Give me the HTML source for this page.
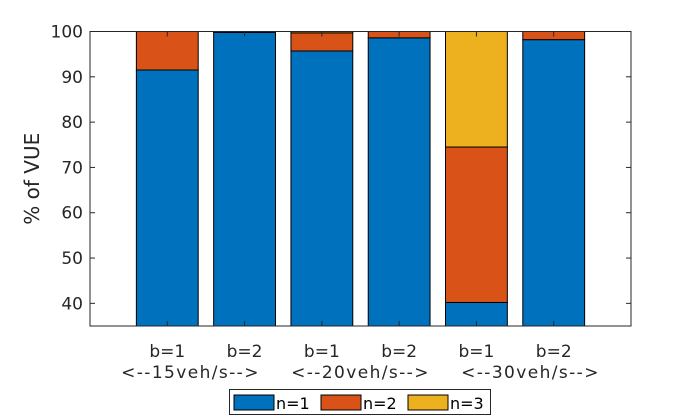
<!DOCTYPE html>
<html><head><meta charset="utf-8"><style>
body{margin:0;background:#fff;}
svg{display:block;font-family:"DejaVu Sans","Liberation Sans",sans-serif;}
</style></head><body>
<svg id="chart" width="689" height="416" viewBox="0 0 689 416" xmlns="http://www.w3.org/2000/svg">
<rect x="0" y="0" width="689" height="416" fill="#fff"/>
<g id="plot"></g>
</svg>
<script>
const categories = ["b=1","b=2","b=1","b=2","b=1","b=2"];
const groupLabels = ["<--15veh/s-->","<--20veh/s-->","<--30veh/s-->"];
const n1 = [91.5, 99.8, 95.7, 98.6, 40.2, 98.2];
const n2 = [8.5, 0.0, 4.0, 1.4, 34.3, 1.8];
const n3 = [0.0, 0.2, 0.3, 0.0, 25.5, 0.0];
const yTicks = [40,50,60,70,80,90,100];
const seriesNames = ["n=1","n=2","n=3"];
const colors = ["#0072BD","#D95319","#EDB120"];

const L=90,R=631,T=31.5,B=326;
const yMin=35,yMax=100;
const xs=i=>L+(i+1)*(R-L)/7;
const ys=v=>B-(v-yMin)/(yMax-yMin)*(B-T);
const bw=0.8*(R-L)/7;
const NS="http://www.w3.org/2000/svg";
const g=document.getElementById('plot');
function mk(tag,attrs,parent){const e=document.createElementNS(NS,tag);for(const k in attrs)e.setAttribute(k,attrs[k]);(parent||g).appendChild(e);return e;}

const ax=mk('rect',{x:L,y:T,width:R-L,height:B-T,fill:'#fff',stroke:'none'});



const series=[n1,n2,n3];
categories.forEach((c,i)=>{
  let base=0;
  series.forEach((s,k)=>{
    const v=s[i];
    if(v<=0){return;}
    const lo=Math.max(base,yMin), hi=base+v;
    base=hi;
    if(hi<=yMin)return;
    const r=mk('rect',{x:xs(i)-bw/2,y:ys(hi),width:bw,height:ys(lo)-ys(hi),fill:colors[k],stroke:'#000','stroke-width':1});
    
    
  });
  const t=mk('text',{x:xs(i),y:357,'text-anchor':'middle','font-size':17,fill:'#262626'});
  t.textContent=c;
  
  
  mk('line',{x1:xs(i),x2:xs(i),y1:T,y2:T+5,stroke:'#262626','stroke-width':1});
  mk('line',{x1:xs(i),x2:xs(i),y1:B,y2:B-5,stroke:'#262626','stroke-width':1});
});
const midX=(L+R)/2;
groupLabels.forEach((gl,j)=>{
  const t=mk('text',{x:midX+(j-1)*170,y:378,'text-anchor':'middle','font-size':17,'letter-spacing':1.4,fill:'#262626'});
  t.textContent=gl;
  
  
});
yTicks.forEach(v=>{
  const y=ys(v);
  mk('line',{x1:L,x2:L+5,y1:y,y2:y,stroke:'#262626'});
  mk('line',{x1:R,x2:R-5,y1:y,y2:y,stroke:'#262626'});
  const t=mk('text',{x:L-7,y:y+6,'text-anchor':'end','font-size':17,fill:'#262626'});
  t.textContent=v;
  
  
});
const fr=mk('rect',{x:L,y:T,width:R-L,height:B-T,fill:'none',stroke:'#262626','stroke-width':1});


const yl=mk('text',{x:39,y:(T+B)/2,'text-anchor':'middle','font-size':20,fill:'#262626',transform:'rotate(-90 39 '+((T+B)/2)+')'});
yl.textContent='% of VUE';



const lg=mk('g',{});


mk('rect',{x:229.5,y:389.5,width:261,height:25,fill:'#fff',stroke:'#262626'},lg);
seriesNames.forEach((n,k)=>{
  const x0=234+k*87;
  const sw=mk('rect',{x:x0,y:395,width:40,height:15,fill:colors[k],stroke:'#000'},lg);
  
  
  const t=mk('text',{x:x0+42,y:409,'font-size':16,fill:'#000'},lg);
  t.textContent=n;
  
  
});
</script>
</body></html>
